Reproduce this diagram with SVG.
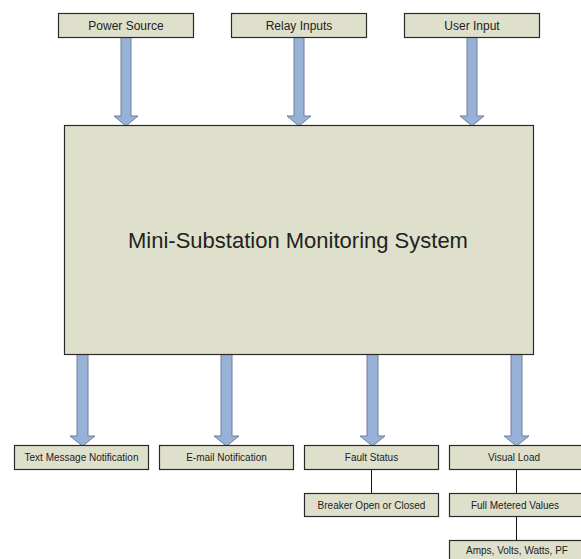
<svg xmlns="http://www.w3.org/2000/svg" width="581" height="559" viewBox="0 0 581 559">
<style>
.box{fill:#dfe0cc;stroke:#2a2a2a;stroke-width:1.2}
.t{font-family:"Liberation Sans",Arial,sans-serif;fill:#222;text-anchor:middle}
.t12{font-size:12px}
.t10{font-size:10px}
.arr{fill:#97b2d6;stroke:#6f7f98;stroke-width:1}
.ln{stroke:#111;stroke-width:1;fill:none}
</style>
<rect width="581" height="559" fill="#fff"/>
<g id="connectors">
<path class="arr" d="M121,37 H131 V116 H138 L126,126 L114,116 H121 Z"/>
<path class="arr" d="M294,37 H304 V116 H311 L299,126 L287,116 H294 Z"/>
<path class="arr" d="M467,37 H477 V116 H484 L472,126 L460,116 H467 Z"/>
<path class="arr" d="M77,353 H88 V436 H95 L82.5,446 L70,436 H77 Z"/>
<path class="arr" d="M221,353 H232 V436 H239 L226.5,446 L214,436 H221 Z"/>
<path class="arr" d="M367,353 H378 V436 H385 L372.5,446 L360,436 H367 Z"/>
<path class="arr" d="M511,353 H522 V436 H529 L516.5,446 L504,436 H511 Z"/>
<path class="ln" d="M371.5,469 V493"/>
<path class="ln" d="M516.5,469 V493 M516.5,516 V540"/>
</g>
<g id="power-source"><rect class="box" x="58.5" y="13.5" width="135" height="24"/><text class="t t12" x="126" y="29.5">Power Source</text></g>
<g id="relay-inputs"><rect class="box" x="231.5" y="13.5" width="135" height="24"/><text class="t t12" x="299" y="29.5">Relay Inputs</text></g>
<g id="user-input"><rect class="box" x="404.5" y="13.5" width="135" height="24"/><text class="t t12" x="472" y="29.5">User Input</text></g>
<g id="main"><rect class="box" x="64.5" y="125.5" width="469" height="229"/><text class="t" style="font-size:22px" x="298" y="248">Mini-Substation Monitoring System</text></g>
<g id="text-message"><rect class="box" x="14.5" y="445.5" width="134" height="24"/><text class="t t10" x="81.5" y="461">Text Message Notification</text></g>
<g id="email"><rect class="box" x="159.5" y="445.5" width="134" height="24"/><text class="t t10" x="226.5" y="461">E-mail Notification</text></g>
<g id="fault-status"><rect class="box" x="304.5" y="445.5" width="134" height="24"/><text class="t t10" x="371.5" y="461">Fault Status</text></g>
<g id="visual-load"><rect class="box" x="449.5" y="445.5" width="134" height="24"/><text class="t t10" x="514" y="461">Visual Load</text></g>
<g id="breaker"><rect class="box" x="304.5" y="493.5" width="134" height="23"/><text class="t t10" x="371.5" y="508.5">Breaker Open or Closed</text></g>
<g id="full-metered"><rect class="box" x="449.5" y="493.5" width="134" height="23"/><text class="t t10" x="515" y="508.5">Full Metered Values</text></g>
<g id="amps"><rect class="box" x="449.5" y="540.5" width="134" height="24"/><text class="t t10" x="517" y="554">Amps, Volts, Watts, PF</text></g>
</svg>
